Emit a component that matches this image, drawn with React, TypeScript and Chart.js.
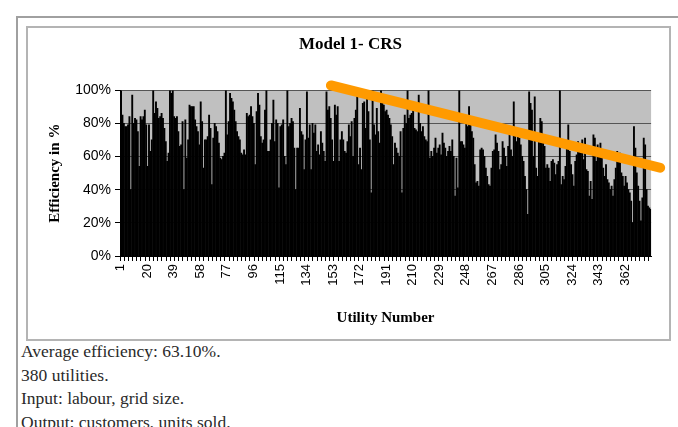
import React, { useEffect, useRef } from "react";
import { Chart, registerables } from "chart.js";

Chart.register(...registerables);

// Efficiency (%) per utility
const efficiency001to100 = [
  100, 85, 80, 78, 78, 79, 84, 40, 97, 80,
  83, 82, 75, 54, 84, 82, 84, 88, 79, 54,
  79, 63, 70, 100, 86, 93, 89, 83, 84, 86,
  83, 77, 69, 57, 62, 100, 98, 100, 84, 83,
  84, 75, 66, 67, 81, 40, 82, 59, 70, 91,
  90, 90, 90, 82, 78, 75, 67, 93, 81, 53,
  70, 70, 72, 85, 77, 43, 71, 80, 78, 75,
  68, 59, 58, 60, 62, 100, 73, 81, 98, 95,
  93, 88, 81, 75, 72, 70, 62, 61, 64, 61,
  86, 84, 85, 90, 84, 80, 55, 87, 98, 91,
];
const efficiency101to200 = [
  72, 68, 70, 88, 100, 63, 63, 70, 80, 94,
  69, 82, 80, 41, 78, 79, 82, 60, 55, 100,
  78, 80, 83, 81, 65, 40, 65, 65, 89, 75,
  73, 52, 70, 99, 71, 79, 52, 80, 74, 79,
  63, 67, 61, 75, 68, 63, 57, 99, 88, 90,
  83, 70, 57, 91, 85, 90, 57, 70, 75, 70,
  63, 62, 69, 79, 72, 81, 60, 83, 88, 97,
  55, 65, 52, 92, 93, 77, 95, 87, 70, 38,
  100, 79, 73, 89, 75, 68, 100, 97, 91, 87,
  88, 85, 83, 79, 72, 55, 68, 65, 62, 60,
];
const efficiency201to300 = [
  75, 38, 77, 85, 80, 100, 83, 85, 86, 89,
  77, 76, 75, 97, 80, 75, 78, 72, 70, 69,
  100, 59, 63, 60, 65, 71, 62, 65, 67, 61,
  74, 68, 65, 60, 63, 66, 63, 70, 60, 36,
  59, 41, 100, 69, 69, 67, 65, 81, 78, 90,
  83, 75, 71, 55, 44, 45, 42, 64, 65, 64,
  60, 53, 48, 43, 42, 53, 63, 64, 73, 68,
  63, 52, 55, 69, 65, 60, 54, 66, 73, 64,
  60, 93, 72, 69, 73, 71, 67, 60, 57, 48,
  40, 25, 99, 92, 88, 60, 96, 53, 48, 69,
];
const efficiency301to380 = [
  83, 81, 72, 66, 53, 55, 53, 45, 57, 58,
  56, 49, 55, 57, 100, 43, 48, 46, 54, 68,
  79, 63, 55, 49, 42, 57, 61, 69, 66, 62,
  70, 58, 71, 52, 51, 36, 45, 34, 73, 71,
  57, 67, 62, 68, 64, 53, 48, 55, 46, 44,
  40, 42, 36, 46, 53, 63, 60, 62, 50, 48,
  42, 48, 44, 40, 38, 33, 20, 78, 65, 50,
  42, 33, 21, 35, 71, 67, 40, 30, 29, 28,
];

const efficiency = [
  ...efficiency001to100,
  ...efficiency101to200,
  ...efficiency201to300,
  ...efficiency301to380,
];
const utilityNumbers = efficiency.map((_, i) => String(i + 1));
const labelEvery = 19;
const yTicks = [0, 20, 40, 60, 80, 100];

// Hand-drawn orange trend stroke (x in utility index, y in %)
const trendX = [150.4, 386];
const trendY = [103, 53.3];

const notes = [
  "Average efficiency: 63.10%.",
  "380 utilities.",
  "Input: labour, grid size.",
  "Output: customers, units sold.",
];

const plotBg = {
  id: "plotBg",
  beforeDraw(chart: any) {
    const { ctx, chartArea } = chart;
    if (!chartArea) return;
    ctx.save();
    ctx.fillStyle = "#c0c0c0";
    ctx.fillRect(chartArea.left, chartArea.top, chartArea.right - chartArea.left, chartArea.bottom - chartArea.top);
    ctx.restore();
  },
};

export default function App() {
  const ref = useRef<HTMLCanvasElement>(null);

  useEffect(() => {
    if (!ref.current) return;
    const chart = new Chart(ref.current, {
      data: {
        labels: utilityNumbers,
        datasets: [
          {
            type: "line",
            data: trendX.map((x, i) => ({ x, y: trendY[i] })),
            xAxisID: "x2",
            yAxisID: "y",
            borderColor: "#ff9a00",
            borderWidth: 10,
            borderCapStyle: "round",
            pointRadius: 0,
            clip: false as any,
            order: 0,
          } as any,
          {
            type: "bar",
            data: efficiency,
            xAxisID: "x",
            yAxisID: "y",
            backgroundColor: "#000",
            borderWidth: 0,
            inflateAmount: 0.6,
            barPercentage: 1,
            categoryPercentage: 1,
            order: 1,
          } as any,
        ],
      },
      options: {
        responsive: false,
        animation: false,
        layout: { padding: { left: 14, right: 10, top: 0, bottom: 12 } },
        plugins: {
          legend: { display: false },
          tooltip: { enabled: false },
          title: {
            display: true,
            text: "Model 1- CRS",
            color: "#000",
            font: { family: "'Liberation Serif', serif", size: 17, weight: "bold" },
            padding: { top: 6, bottom: 36 },
          },
        },
        scales: {
          x: {
            type: "category",
            offset: true,
            afterFit: (s: any) => { s.height = 71; },
            border: { display: true, color: "#000", width: 1 },
            grid: {
              offset: true,
              drawOnChartArea: false,
              drawTicks: true,
              tickLength: 5,
              color: (c: any) => (c.index % 3 === 0 ? "#000" : "rgba(0,0,0,0)"),
            },
            ticks: {
              autoSkip: false,
              minRotation: 90,
              maxRotation: 90,
              padding: 3,
              color: "#000",
              font: { family: "'Liberation Sans', Arial, sans-serif", size: 13 },
              callback: (_v: any, i: number) => (i % labelEvery === 0 ? utilityNumbers[i] : ""),
            },
            title: {
              display: true,
              text: "Utility Number",
              color: "#000",
              font: { family: "'Liberation Serif', serif", size: 15, weight: "bold" },
              padding: { top: 6, bottom: 0 },
            },
          },
          x2: {
            type: "linear",
            display: false,
            min: -0.5,
            max: efficiency.length - 0.5,
          },
          y: {
            min: 0,
            max: 100,
            afterFit: (s: any) => { s.width = 78; },
            afterBuildTicks: (s: any) => { s.ticks = yTicks.map((v) => ({ value: v })); },
            border: { display: true, color: "#000" },
            grid: {
              color: (c: any) => (c.tick && c.tick.value === 0 ? "#000" : "#555"),
              tickLength: 5,
              tickColor: "#000",
            },
            ticks: {
              color: "#000",
              padding: 4,
              font: { family: "'Liberation Sans', Arial, sans-serif", size: 14 },
              callback: (v: any) => v + "%",
            },
            title: {
              display: true,
              text: "Efficiency in %",
              color: "#000",
              font: { family: "'Liberation Serif', serif", size: 15, weight: "bold" },
              padding: { top: 4, bottom: 0 },
            },
          },
        },
      },
      plugins: [plotBg],
    });
    return () => chart.destroy();
  }, []);

  return (
    <div>
      <div
        style={{
          position: "absolute",
          left: 16,
          top: 16,
          width: 700,
          height: 460,
          borderTop: "2px solid #a0a0a0",
          borderLeft: "2px solid #a0a0a0",
        }}
      />
      <div
        style={{
          position: "absolute",
          left: 26,
          top: 26,
          width: 645,
          height: 315,
          boxSizing: "border-box",
          border: "2px solid #b4b4b4",
          background: "#fff",
        }}
      >
        <canvas ref={ref} width={641} height={311} style={{ display: "block" }} />
      </div>
      <div
        style={{
          position: "absolute",
          left: 21,
          top: 340,
          fontFamily: "'Liberation Serif', serif",
          fontSize: 17.5,
          lineHeight: "23.5px",
          color: "#2a2a2a",
          whiteSpace: "nowrap",
        }}
      >
        {notes.map((t) => (
          <div key={t}>{t}</div>
        ))}
      </div>
    </div>
  );
}
